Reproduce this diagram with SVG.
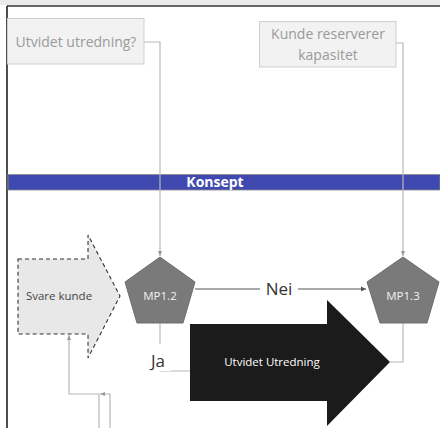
<svg xmlns="http://www.w3.org/2000/svg" width="440" height="428" viewBox="0 0 440 428">
<style>
.note rect{fill:#f2f2f2;stroke:#cfcfcf;stroke-width:1}
.note text{font-family:"Open Sans","Liberation Sans",sans-serif;font-size:14px;fill:#9a9a9a;text-anchor:middle}
.mp polygon{fill:#7a7a7a;stroke:#6e6e6e;stroke-width:1}
.mp text{font-family:"Open Sans","Liberation Sans",sans-serif;font-size:11.5px;fill:#f2f2f2;text-anchor:middle}
.conn{fill:none;stroke:#b8b8b8;stroke-width:1.2}
.lbl{font-family:"Open Sans","Liberation Sans",sans-serif;font-size:17px;fill:#333;text-anchor:middle}
</style>
<defs>
<marker id="ah" markerWidth="6" markerHeight="6" refX="5" refY="3" orient="auto" markerUnits="userSpaceOnUse">
<path d="M0,0.5 L5,3 L0,5.5 Z" fill="#555"/>
</marker>
<marker id="ahg" markerWidth="6" markerHeight="6" refX="5" refY="3" orient="auto" markerUnits="userSpaceOnUse">
<path d="M0,1 L5,3 L0,5 Z" fill="#999"/>
</marker>
</defs>
<rect x="0" y="0" width="440" height="428" fill="#fff"/>
<rect x="0" y="0" width="440" height="5" fill="#ebebeb"/>
<line x1="7" y1="6" x2="440" y2="6" stroke="#333" stroke-width="1.6"/>
<line x1="7" y1="6" x2="7" y2="428" stroke="#222" stroke-width="1.6"/>

<g id="lane-konsept">
<rect x="8" y="174.5" width="432" height="15.5" fill="#4049b0" stroke="#8a8a8a" stroke-width="0.8"/>
<text x="215" y="187" font-family="'Open Sans','Liberation Sans',sans-serif" font-size="14" font-weight="bold" fill="#fff" text-anchor="middle">Konsept</text>
</g>

<g id="connectors">
<path class="conn" d="M144,42 H160 V256" marker-end="url(#ahg)"/>
<path class="conn" d="M396,43 H403 V256" marker-end="url(#ahg)"/>
<path d="M195,289 H366" fill="none" stroke="#555" stroke-width="1" marker-end="url(#ah)"/>
<path class="conn" d="M160,323 V371 H190"/>
<path class="conn" d="M403,323 V362 H390"/>
<path class="conn" d="M99,428 V394 H69 V335" marker-end="url(#ahg)"/>
<path class="conn" d="M110,428 V394 H100" marker-end="url(#ahg)"/>
<rect x="260" y="278" width="38" height="22" fill="#fff"/>
<text class="lbl" x="279" y="295">Nei</text>
<rect x="146" y="344" width="25" height="27" fill="#fff"/>
<text class="lbl" x="158" y="367">Ja</text>
</g>

<g id="utvidet-utredning-q" class="note">
<rect x="7.5" y="18.5" width="136.5" height="45.5"/>
<text x="76" y="47">Utvidet utredning?</text>
</g>

<g id="kunde-reserverer" class="note">
<rect x="259.5" y="21.5" width="136.5" height="45.5"/>
<text x="328" y="39">Kunde reserverer</text>
<text x="328" y="60">kapasitet</text>
</g>

<g id="svare-kunde">
<path d="M18,259 H88 V235 L120,296 L88,358 V334 H18 Z" fill="#e8e8e8" stroke="#333" stroke-width="1.1" stroke-dasharray="4,3"/>
<text x="59" y="300" font-family="'Open Sans','Liberation Sans',sans-serif" font-size="11.5" fill="#444" text-anchor="middle">Svare kunde</text>
</g>

<g id="mp12" class="mp">
<polygon points="160,257 195,282 183,323 137,323 125,282"/>
<text x="160" y="300">MP1.2</text>
</g>

<g id="mp13" class="mp">
<polygon points="403,257 439,282 427,323 380,323 367,282"/>
<text x="403" y="300">MP1.3</text>
</g>

<g id="utvidet-utredning">
<path d="M190,324 H327 V300 L390,362 L327,426 V401 H190 Z" fill="#1b1b1b"/>
<text x="272" y="366" font-family="'Open Sans','Liberation Sans',sans-serif" font-size="11.5" fill="#fff" text-anchor="middle">Utvidet Utredning</text>
</g>
</svg>
